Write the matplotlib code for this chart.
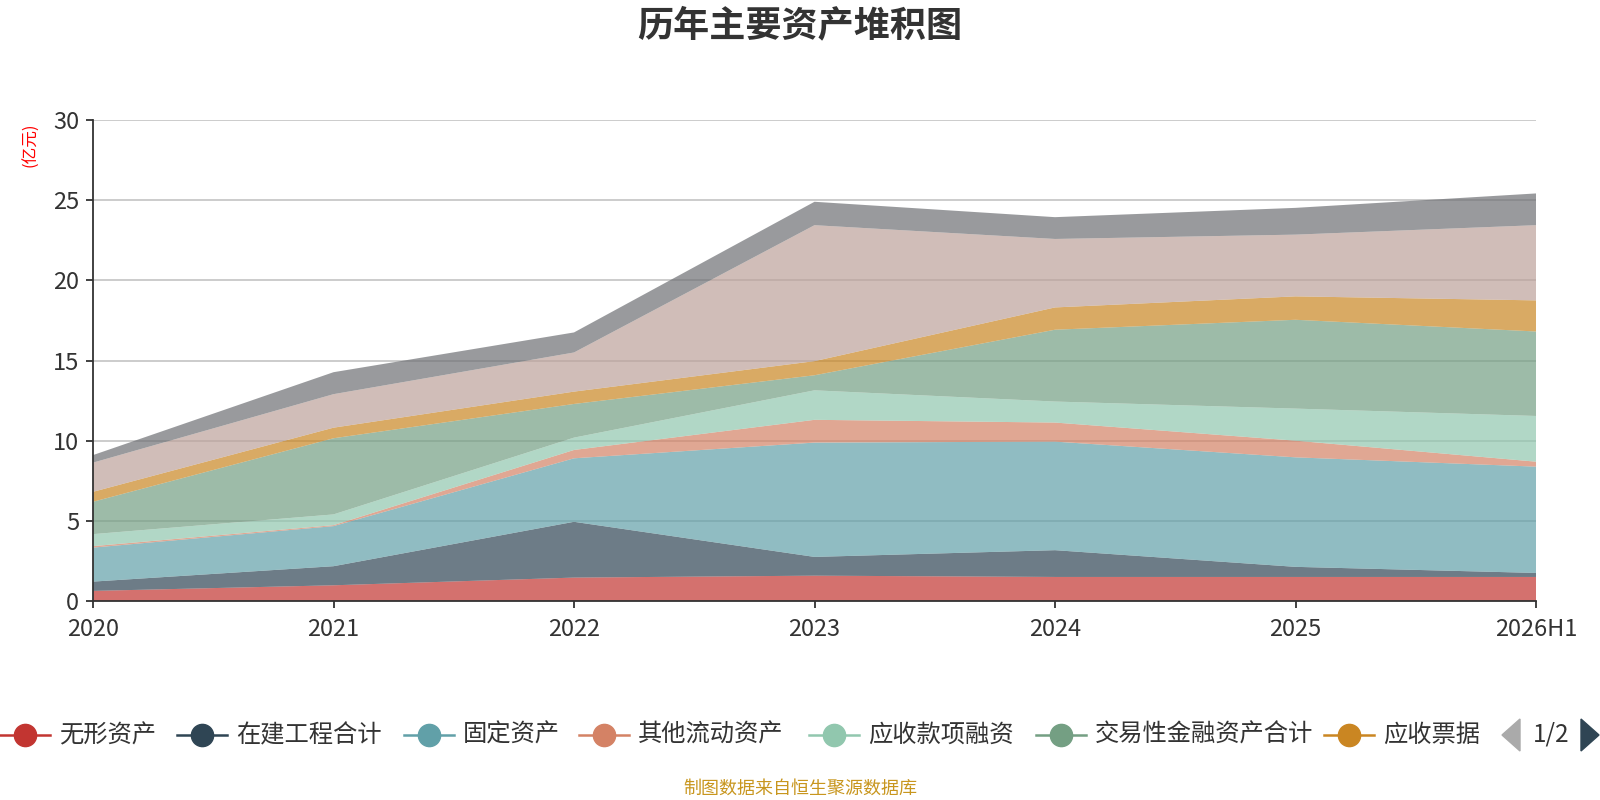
import numpy as np
import matplotlib.pyplot as plt
from matplotlib.lines import Line2D
from matplotlib.patches import Polygon

plt.rcParams['font.family'] = ['Noto Sans CJK SC', 'DejaVu Sans']

# data (亿元)
years = ["2020", "2021", "2022", "2023", "2024", "2025", "2026H1"]
wuxing = [0.63, 0.98, 1.46, 1.58, 1.50, 1.50, 1.50]
zaijian = [0.58, 1.19, 3.48, 1.17, 1.67, 0.63, 0.25]
guding = [2.12, 2.50, 3.96, 7.13, 6.77, 6.83, 6.63]
qita_liudong = [0.09, 0.06, 0.52, 1.42, 1.19, 1.04, 0.31]
yingshou_rongzi = [0.75, 0.67, 0.77, 1.84, 1.31, 2.00, 2.85]
jiaoyi_jinrong = [2.02, 4.75, 2.10, 0.94, 4.48, 5.54, 5.27]
yingshou_piaoju = [0.62, 0.66, 0.77, 0.88, 1.39, 1.46, 1.94]
page2_a = [1.82, 2.09, 2.44, 8.48, 4.27, 3.85, 4.69]
page2_b = [0.47, 1.37, 1.25, 1.46, 1.36, 1.67, 1.98]

series = [wuxing, zaijian, guding, qita_liudong, yingshou_rongzi,
          jiaoyi_jinrong, yingshou_piaoju, page2_a, page2_b]
names = ["无形资产", "在建工程合计", "固定资产", "其他流动资产", "应收款项融资",
         "交易性金融资产合计", "应收票据"]
colors = ["#c23531", "#2f4554", "#61a0a8", "#d48265", "#91c7ae",
          "#749f83", "#ca8622", "#bda29a", "#6e7074"]

W, H = 1600, 800
fig = plt.figure(figsize=(16, 8), dpi=100)
ax = fig.add_axes([93/W, 1-601/H, (1536-93)/W, (601-120)/H])

x = np.arange(len(years))
ax.stackplot(x, *series, colors=colors, alpha=0.7, linewidth=0)

ax.set_xlim(0, len(years)-1)
ax.set_ylim(0, 30)
ax.set_yticks([0, 5, 10, 15, 20, 25, 30])
ax.set_xticks(x)
ax.set_xticklabels(years)
ax.yaxis.grid(True, color="#c8c8c8", linewidth=1.3)
ax.set_axisbelow(True)
for s in ["top", "right"]:
    ax.spines[s].set_visible(False)
for s in ["left", "bottom"]:
    ax.spines[s].set_color("#333333")
    ax.spines[s].set_linewidth(1.3)
ax.tick_params(axis="both", labelsize=17, colors="#333333", length=5, width=1.3, pad=5)
ax.tick_params(axis="x", pad=7)

fig.text(0.5, 1-26/H, "历年主要资产堆积图", ha="center", va="center",
         fontsize=26, fontweight="bold", color="#333333")
fig.text(31/W, 1-145/H, "(亿元)", rotation=90, ha="center", va="center",
         fontsize=12, color="red")

# legend, page 1
leg_x = [25, 202, 429, 604, 834, 1061, 1349]
leg_y = 1 - 735/H
for lx, nm, c in zip(leg_x, names, colors):
    fig.add_artist(Line2D([(lx-25)/W, (lx+25)/W], [leg_y, leg_y],
                          transform=fig.transFigure, color=c, linewidth=1.8))
    fig.add_artist(Line2D([lx/W], [leg_y], transform=fig.transFigure,
                          marker="o", markersize=16, color=c, linestyle="none"))
    fig.text((lx+34)/W, leg_y, nm, ha="left", va="center",
             fontsize=17.5, color="#333333")

# page arrows
fig.add_artist(Polygon([[1502/W, leg_y], [1520/W, leg_y+16/H], [1520/W, leg_y-16/H]],
                       closed=True, transform=fig.transFigure, color="#aaaaaa"))
fig.text(1551/W, leg_y, "1/2", ha="center", va="center", fontsize=17.5,
         color="#333333")
fig.add_artist(Polygon([[1599/W, leg_y], [1581/W, leg_y+16/H], [1581/W, leg_y-16/H]],
                       closed=True, transform=fig.transFigure, color="#2f4554"))

fig.text(0.5, 1-789/H, "制图数据来自恒生聚源数据库", ha="center", va="center",
         fontsize=13, color="#c8961e")

fig.savefig("out.png", dpi=100)
